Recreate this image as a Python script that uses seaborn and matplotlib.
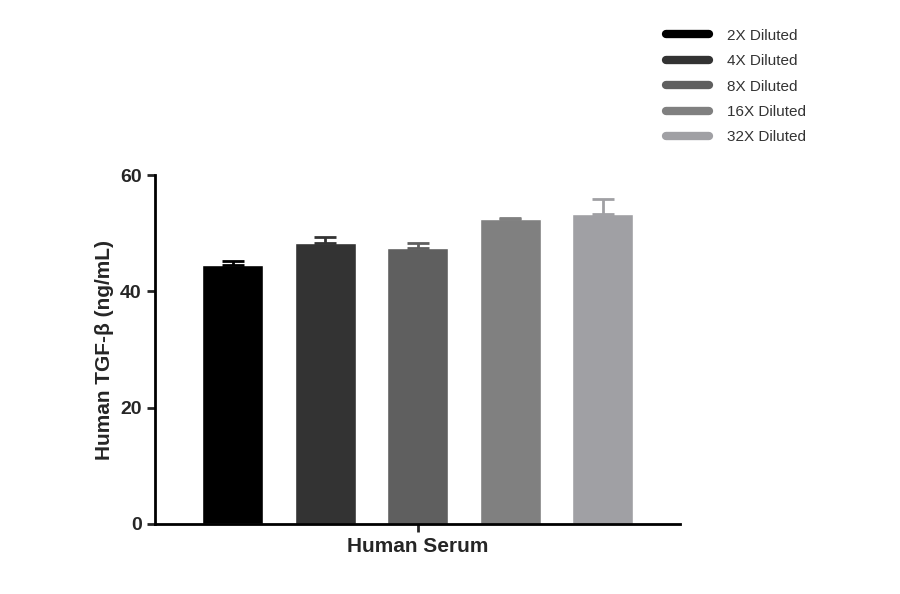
import matplotlib
matplotlib.use("Agg")
import matplotlib.pyplot as plt
import seaborn as sns
import pandas as pd
from matplotlib.lines import Line2D

# data
dilutions = ["2X Diluted", "4X Diluted", "8X Diluted", "16X Diluted", "32X Diluted"]
means = [44.5, 48.4, 47.4, 52.4, 53.3]
upper_err = [0.7, 0.9, 0.9, 0.3, 2.6]
colors = ["#000000", "#333333", "#5f5f5f", "#808080", "#a0a0a4"]

sns.set_style("white")
plt.rcParams['font.family'] = ['Liberation Sans', 'DejaVu Sans']

df = pd.DataFrame({"dilution": dilutions, "value": means})

fig = plt.figure(figsize=(9, 5.94), dpi=100)
ax = fig.add_axes([0.172, 0.118, 0.584, 0.587])
sns.barplot(data=df, x="dilution", y="value", hue="dilution", palette=colors,
            width=0.66, legend=False, ax=ax, errorbar=None, saturation=1)
for i, (m, e, c) in enumerate(zip(means, upper_err, colors)):
    ax.errorbar(i, m, yerr=[[0], [e]], color=c, capsize=8, capthick=2, elinewidth=2)

ax.set_xlim(-0.84, 4.84)
ax.set_ylim(0, 60)
ax.set_yticks([0, 20, 40, 60])
ax.set_xticks([2])
ax.set_xticklabels(["Human Serum"], fontsize=15, fontweight="bold")
ax.set_xlabel("")
ax.set_ylabel("Human TGF-β (ng/mL)", fontsize=15, fontweight="bold")
ax.tick_params(axis="y", labelsize=14, width=2, length=6, left=True)
ax.tick_params(axis="x", width=2, length=6, bottom=True)
for lbl in ax.get_yticklabels():
    lbl.set_fontweight("bold")
for s in ["top", "right"]:
    ax.spines[s].set_visible(False)
for s in ["left", "bottom"]:
    ax.spines[s].set_linewidth(2)
    ax.spines[s].set_color("black")

handles = [Line2D([0], [0], color=c, lw=6) for c in colors]
fig.legend(handles, dilutions, loc="upper left", bbox_to_anchor=(0.725, 0.975),
           frameon=False, fontsize=11, handlelength=2.8, labelspacing=0.75,
           handletextpad=1.2, labelcolor="#333333")

fig.savefig("out.png", dpi=100)
